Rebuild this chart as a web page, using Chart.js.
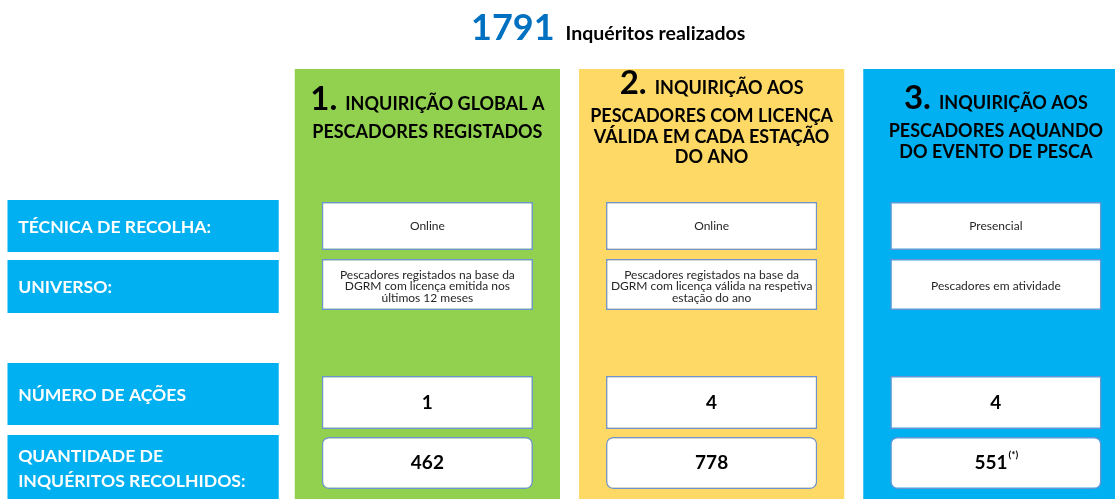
<!DOCTYPE html>
<html lang="pt">
<head>
    <meta charset="UTF-8">
    <title>1791 Inquéritos realizados</title>
    <script src="https://cdn.jsdelivr.net/npm/chart.js"></script>
    <style>
        html, body {
            margin: 0;
            padding: 0;
            background: #fff;
            overflow: hidden;
            width: 1115px;
            height: 499px;
        }
        #quadro {
            position: absolute;
            left: 1px;
            top: 0;
        }
    </style>
</head>
<body>
    <canvas id="quadro" width="1137" height="499"></canvas>
    <script>
        // dados do quadro
        var categorias = ['Rótulos', 'Inquirição 1', 'Inquirição 2', 'Inquirição 3'];
        var numeros = ['1.', '2.', '3.'];
        var titulos = [
            ['INQUIRIÇÃO GLOBAL A', 'PESCADORES REGISTADOS'],
            ['INQUIRIÇÃO AOS', 'PESCADORES COM LICENÇA', 'VÁLIDA EM CADA ESTAÇÃO', 'DO ANO'],
            ['INQUIRIÇÃO AOS', 'PESCADORES AQUANDO', 'DO EVENTO DE PESCA']
        ];
        var rotulos = [
            ['TÉCNICA DE RECOLHA:'],
            ['UNIVERSO:'],
            ['NÚMERO DE AÇÕES'],
            ['QUANTIDADE DE', 'INQUÉRITOS RECOLHIDOS:']
        ];
        var tecnica = ['Online', 'Online', 'Presencial'];
        var universo = [
            ['Pescadores registados na base da', 'DGRM com licença emitida nos', 'últimos 12 meses'],
            ['Pescadores registados na base da', 'DGRM com licença válida na respetiva', 'estação do ano'],
            ['Pescadores em atividade']
        ];
        var numeroAcoes = [1, 4, 4];
        var inqueritos = [462, 778, 551];
        var notas = ['', '', '(*)'];
        var totalInqueritos = inqueritos.reduce((a, b) => a + b, 0);

        // disposição (fora dos dados)
        var cores = ['#92D050', '#FFD966', '#00B0F0'];
        var corRotulo = '#00B0F0';
        var corBorda = '#6C93D3';
        var faixaColuna = [69, 499];
        var faixasRotulo = [[200, 252], [260, 313], [363, 425], [435, 499]];
        var faixasCaixa = [[202, 250], [259, 310], [376, 429], [437, 489]];
        var baseTitulo = [110, 94, 109];
        var FONTE = 'Lato, "Open Sans", sans-serif';

        var conjuntos = [];
        // caixas brancas por linha
        faixasCaixa.forEach(function (f, i) {
            conjuntos.push({
                label: 'caixa' + i,
                data: [null].concat(numeroAcoes.map(() => f)),
                backgroundColor: '#fff',
                borderColor: corBorda,
                borderWidth: 1.5,
                borderSkipped: false,
                borderRadius: i === 3 ? 7 : 0,
                barPercentage: 211 / 284,
                categoryPercentage: 1,
                grouped: false,
                order: 0
            });
        });
        // rótulos à esquerda
        faixasRotulo.forEach(function (f, i) {
            conjuntos.push({
                label: 'rotulo' + i,
                data: [f, null, null, null],
                backgroundColor: corRotulo,
                borderWidth: 0,
                barPercentage: 271 / 284,
                categoryPercentage: 1,
                grouped: false,
                order: 1
            });
        });
        // colunas de fundo
        conjuntos.push({
            label: 'colunas',
            data: [null].concat(cores.map(() => faixaColuna)),
            backgroundColor: ['#fff'].concat(cores),
            borderWidth: 0,
            barPercentage: 265 / 284,
            categoryPercentage: 1,
            grouped: false,
            order: 2
        });

        function linhas(ctx, lista, cx, cy, passo) {
            var y0 = cy - (lista.length - 1) * passo / 2;
            lista.forEach(function (t, k) {
                ctx.fillText(t, cx, y0 + k * passo);
            });
        }

        var textos = {
            id: 'textos',
            afterDatasetsDraw(chart) {
                var ctx = chart.ctx, x = chart.scales.x, y = chart.scales.y;
                ctx.save();

                // total
                ctx.textBaseline = 'alphabetic';
                ctx.textAlign = 'left';
                ctx.fillStyle = '#0070C0';
                ctx.font = 'bold 36px ' + FONTE;
                var t = String(totalInqueritos);
                ctx.fillText(t, 470, 40);
                var w = ctx.measureText(t).width;
                ctx.fillStyle = '#000';
                ctx.font = 'bold 19.5px ' + FONTE;
                ctx.fillText('Inquéritos realizados', 470 + w + 11, 40);

                // títulos das colunas
                titulos.forEach(function (tl, i) {
                    var cx = x.getPixelForValue(i + 1);
                    ctx.fillStyle = '#000';
                    ctx.font = 'bold 33px ' + FONTE;
                    var wn = ctx.measureText(numeros[i]).width;
                    ctx.font = 'bold 18px ' + FONTE;
                    var wt = ctx.measureText(tl[0]).width;
                    var gap = 8;
                    var x0 = cx - (wn + gap + wt) / 2;
                    ctx.textAlign = 'left';
                    ctx.font = 'bold 33px ' + FONTE;
                    ctx.fillText(numeros[i], x0, baseTitulo[i]);
                    ctx.font = 'bold 18px ' + FONTE;
                    ctx.fillText(tl[0], x0 + wn + gap, baseTitulo[i]);
                    ctx.textAlign = 'center';
                    for (var k = 1; k < tl.length; k++) {
                        ctx.fillText(tl[k], cx, baseTitulo[i] + 28 + (k - 1) * 20.5);
                    }
                });

                // rótulos das linhas
                ctx.textAlign = 'left';
                ctx.textBaseline = 'middle';
                ctx.fillStyle = '#fff';
                ctx.font = 'bold 17.6px ' + FONTE;
                rotulos.forEach(function (r, i) {
                    var f = faixasRotulo[i];
                    var cy = i === 3 ? y.getPixelForValue(f[0]) + 34 : y.getPixelForValue((f[0] + f[1]) / 2) + 1;
                    linhas(ctx, r, x.getPixelForValue(0) - 125, cy, 25);
                });

                // conteúdo das caixas
                ctx.textAlign = 'center';
                numeroAcoes.forEach(function (v, i) {
                    var cx = x.getPixelForValue(i + 1);
                    var c0 = faixasCaixa[0], c1 = faixasCaixa[1], c2 = faixasCaixa[2], c3 = faixasCaixa[3];
                    ctx.fillStyle = '#262626';
                    ctx.font = '12px ' + FONTE;
                    linhas(ctx, [tecnica[i]], cx, y.getPixelForValue((c0[0] + c0[1]) / 2), 11.5);
                    linhas(ctx, universo[i], cx, y.getPixelForValue((c1[0] + c1[1]) / 2) + 2, 11.8);

                    ctx.fillStyle = '#000';
                    ctx.font = 'bold 19px ' + FONTE;
                    ctx.fillText(String(numeroAcoes[i]), cx, y.getPixelForValue((c2[0] + c2[1]) / 2));
                    var s = String(inqueritos[i]);
                    var yv = y.getPixelForValue((c3[0] + c3[1]) / 2);
                    if (notas[i]) {
                        var ws = ctx.measureText(s).width;
                        ctx.font = 'bold 10px ' + FONTE;
                        var wnota = ctx.measureText(notas[i]).width;
                        var xs = cx - (ws + wnota) / 2 + ws / 2;
                        ctx.font = 'bold 19px ' + FONTE;
                        ctx.fillText(s, xs, yv);
                        ctx.font = 'bold 10px ' + FONTE;
                        ctx.textAlign = 'left';
                        ctx.fillText(notas[i], xs + ws / 2 + 1, yv - 8);
                        ctx.textAlign = 'center';
                    } else {
                        ctx.fillText(s, cx, yv);
                    }
                });
                ctx.restore();
            }
        };

        var quadro = new Chart(document.getElementById('quadro').getContext('2d'), {
            type: 'bar',
            data: {
                labels: categorias,
                datasets: conjuntos
            },
            options: {
                responsive: false,
                animation: false,
                events: [],
                layout: { padding: 0 },
                plugins: {
                    legend: { display: false },
                    tooltip: { enabled: false }
                },
                scales: {
                    x: { type: 'category', offset: true, display: false },
                    y: { type: 'linear', reverse: true, min: 0, max: 499, display: false }
                }
            },
            plugins: [textos]
        });
    </script>
</body>
</html>
